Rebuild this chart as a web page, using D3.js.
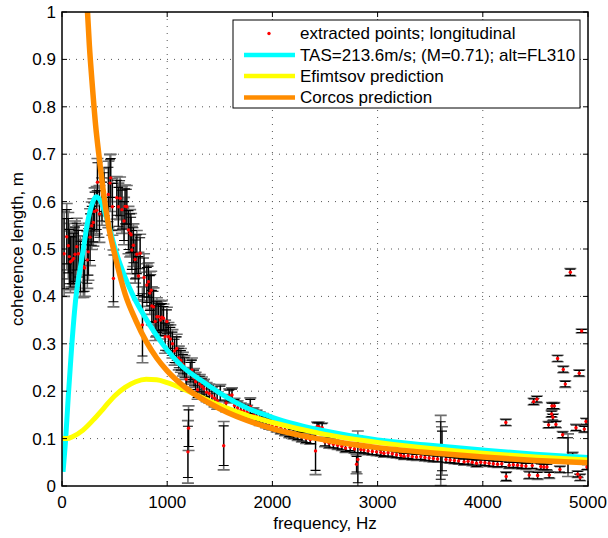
<!DOCTYPE html>
<html>
<head>
<meta charset="utf-8">
<script src="https://cdn.jsdelivr.net/npm/d3@7"></script>
<style>
  body { margin: 0; background: #fff; }
  svg { display: block; font-family: "Liberation Sans", Arial, Helvetica, sans-serif; }
</style>
</head>
<body>
<div id="chart"></div>
<script>
// --- Data ---
// extracted points: [frequency Hz, coherence length m, error half-width]
const points = [
  [20,0.49,0.09],[45,0.526,0.07],[60,0.507,0.07],[70,0.484,0.07],[80,0.473,0.065],[95,0.476,0.06],
  [110,0.48,0.065],[124,0.489,0.07],[140,0.505,0.06],[155,0.49,0.06],[175,0.463,0.065],[203,0.463,0.065],
  [215,0.46,0.06],[241,0.477,0.06],[251,0.494,0.06],[267,0.525,0.06],[283,0.549,0.05],[298,0.556,0.05],
  [310,0.579,0.05],[330,0.582,0.05],[337,0.641,0.05],[356,0.574,0.06],[380,0.6,0.05],[400,0.62,0.05],
  [441,0.615,0.07],[457,0.639,0.06],[463,0.65,0.05],[479,0.589,0.06],[489,0.438,0.06],[521,0.608,0.045],
  [536,0.589,0.05],[552,0.607,0.045],[570,0.583,0.05],[590,0.559,0.05],[600,0.59,0.045],[616,0.589,0.045],
  [632,0.54,0.05],[648,0.533,0.05],[657,0.53,0.045],[664,0.498,0.05],[679,0.508,0.045],[695,0.478,0.05],
  [711,0.489,0.05],[727,0.443,0.05],[743,0.491,0.04],[765,0.34,0.08],[780,0.44,0.05],[806,0.424,0.045],
  [822,0.431,0.04],[835,0.407,0.045],[848,0.413,0.04],[854,0.38,0.04],[870,0.378,0.04],[886,0.347,0.04],
  [902,0.357,0.04],[917,0.357,0.035],[935,0.35,0.04],[949,0.356,0.035],[965,0.354,0.03],[980,0.315,0.035],
  [997,0.347,0.03],[1012,0.315,0.03],[1030,0.31,0.03],[1050,0.3,0.03],[1070,0.285,0.03],[1090,0.29,0.03],
  [1110,0.27,0.025],[1130,0.265,0.025],[1149,0.257,0.025],[1165,0.25,0.025],[1181,0.225,0.025],
  [1197,0.072,0.066],[1203,0.122,0.047],[1220,0.24,0.025],[1235,0.245,0.025],[1255,0.228,0.02],
  [1270,0.22,0.02],[1289,0.203,0.02],[1310,0.215,0.02],[1330,0.21,0.02],[1350,0.205,0.02],[1375,0.198,0.02],
  [1400,0.195,0.02],[1425,0.19,0.018],[1450,0.185,0.018],[1475,0.18,0.018],[1505,0.196,0.018],
  [1537,0.085,0.051],[1560,0.175,0.018],[1590,0.19,0.015],[1616,0.192,0.015],[1640,0.17,0.015],
  [1670,0.165,0.015],[1700,0.16,0.015],[1730,0.158,0.015],[1760,0.155,0.015],[1790,0.168,0.018],
  [1820,0.15,0.015],[1850,0.146,0.014],[1880,0.142,0.014],[1910,0.14,0.013],[1940,0.136,0.013],
  [1970,0.133,0.013],[2000,0.13,0.012],[2040,0.126,0.012],[2080,0.122,0.012],[2120,0.118,0.012],
  [2160,0.114,0.012],[2200,0.11,0.011],[2240,0.107,0.011],[2280,0.104,0.011],[2320,0.1,0.01],
  [2360,0.098,0.01],[2410,0.074,0.05],[2425,0.125,0.01],[2441,0.125,0.01],[2473,0.123,0.01],
  [2500,0.093,0.01],[2540,0.09,0.01],[2580,0.088,0.009],[2620,0.086,0.009],[2660,0.084,0.009],
  [2695,0.08,0.009],[2740,0.082,0.009],[2780,0.078,0.009],[2800,0.046,0.02],[2812,0.056,0.06],
  [2840,0.077,0.008],[2870,0.076,0.008],[2910,0.074,0.008],[2950,0.073,0.008],[2990,0.072,0.008],
  [3030,0.071,0.008],[3060,0.069,0.008],[3100,0.07,0.008],[3140,0.068,0.008],[3180,0.066,0.007],
  [3220,0.065,0.007],[3251,0.063,0.007],[3290,0.064,0.007],[3330,0.062,0.007],[3370,0.061,0.007],
  [3410,0.062,0.007],[3450,0.06,0.007],[3490,0.059,0.007],[3530,0.058,0.007],[3570,0.057,0.007],
  [3600,0.075,0.074],[3612,0.074,0.051],[3650,0.056,0.007],[3690,0.055,0.007],[3730,0.054,0.007],
  [3770,0.053,0.007],[3822,0.051,0.007],[3860,0.052,0.007],[3900,0.05,0.007],[3940,0.048,0.008],
  [3980,0.05,0.007],[4020,0.049,0.007],[4060,0.048,0.007],[4100,0.047,0.007],[4140,0.046,0.007],
  [4180,0.047,0.007],[4219,0.134,0.007],[4222,0.02,0.01],[4251,0.044,0.007],[4290,0.045,0.007],
  [4330,0.044,0.007],[4370,0.043,0.007],[4410,0.042,0.007],[4441,0.023,0.008],[4470,0.043,0.007],
  [4483,0.178,0.007],[4514,0.183,0.007],[4521,0.022,0.008],[4552,0.041,0.007],[4580,0.04,0.007],
  [4610,0.04,0.007],[4625,0.129,0.007],[4632,0.023,0.007],[4654,0.152,0.007],[4657,0.169,0.007],
  [4666,0.145,0.007],[4680,0.169,0.007],[4695,0.13,0.007],[4711,0.269,0.007],[4733,0.035,0.007],
  [4759,0.108,0.007],[4765,0.246,0.007],[4784,0.215,0.007],[4810,0.065,0.045],[4832,0.451,0.008],
  [4854,0.063,0.008],[4886,0.123,0.007],[4902,0.025,0.007],[4917,0.238,0.007],[4925,0.018,0.007],
  [4940,0.327,0.004],[4965,0.12,0.007],[4981,0.136,0.007],[4990,0.04,0.006]
];

// TAS=213.6m/s model curve
const tasFreq = [10,35,60,92,133,170,203,241,283,324,362,410,457,505,584,679,806,965,1149,1314,1500,1774,2000,2171,2500,3000,3500,4000,4500,5000];
const tasVal  = [0.03,0.1,0.19,0.294,0.4,0.455,0.5,0.554,0.593,0.61,0.603,0.575,0.54,0.5,0.449,0.4,0.35,0.297,0.251,0.224,0.196,0.163,0.145,0.133,0.116,0.097,0.086,0.076,0.067,0.06];

// Efimtsov prediction
const efiFreq = [0,50,100,200,300,400,500,600,700,800,900,1000,1200,1500,1774,2000,2500,3000,3500,4000,4500,5000];
const efiVal  = [0.1,0.1,0.104,0.118,0.14,0.165,0.19,0.208,0.22,0.225,0.224,0.218,0.2,0.17,0.148,0.134,0.109,0.092,0.079,0.069,0.061,0.055];

// Corcos prediction
const corFreq = [235,260,290,320,350,400,450,500,600,700,800,900,1000,1200,1500,2000,2500,3000,3500,4000,4500,5000];
const corVal  = [1.03,0.93,0.84,0.76,0.7,0.61,0.54,0.49,0.405,0.35,0.305,0.27,0.243,0.203,0.163,0.121,0.097,0.081,0.07,0.061,0.054,0.049];

const xTicks = [0,1000,2000,3000,4000,5000];
const yTicks = [0,0.1,0.2,0.3,0.4,0.5,0.6,0.7,0.8,0.9,1];

const legendLabels = [
  "extracted points; longitudinal",
  "TAS=213.6m/s; (M=0.71); alt=FL310",
  "Efimtsov prediction",
  "Corcos prediction"
];

// --- Layout ---
const width = 608, height = 538;
const margin = { top: 12, right: 20, bottom: 52, left: 62 };
const iw = width - margin.left - margin.right;   // 526
const ih = height - margin.top - margin.bottom;  // 474
const fs = 17;

const svg = d3.select("#chart").append("svg")
    .attr("width", width)
    .attr("height", height);

svg.append("rect").attr("width", width).attr("height", height).attr("fill", "#fff");

const x = d3.scaleLinear().domain([0, 5000]).range([0, iw]);
const y = d3.scaleLinear().domain([0, 1]).range([ih, 0]);

const g = svg.append("g").attr("transform", `translate(${margin.left},${margin.top})`);

g.append("clipPath").attr("id", "clip")
  .append("rect").attr("width", iw).attr("height", ih);

// grid (dotted, MATLAB style)
g.append("g").selectAll("line")
  .data(xTicks.slice(1, -1))
  .join("line")
    .attr("x1", d => x(d)).attr("x2", d => x(d))
    .attr("y1", 0).attr("y2", ih)
    .attr("stroke", "#555").attr("stroke-width", 1)
    .attr("stroke-dasharray", "1,6");

g.append("g").selectAll("line")
  .data(yTicks.slice(1, -1))
  .join("line")
    .attr("x1", 0).attr("x2", iw)
    .attr("y1", d => y(d)).attr("y2", d => y(d))
    .attr("stroke", "#555").attr("stroke-width", 1)
    .attr("stroke-dasharray", "1,6");

const plot = g.append("g").attr("clip-path", "url(#clip)");

// error bars: grey outer + black inner
function drawBars(cls, color, scaleErr, capHalf, sw) {
  const bars = plot.append("g").attr("class", cls)
      .attr("stroke", color).attr("stroke-width", sw).attr("fill", "none");
  bars.selectAll("path")
    .data(points)
    .join("path")
      .attr("d", d => {
        const cx = x(d[0]);
        const y1 = y(d[1] + d[2] * scaleErr), y2 = y(d[1] - d[2] * scaleErr);
        return `M${cx},${y1}V${y2}M${cx - capHalf},${y1}H${cx + capHalf}M${cx - capHalf},${y2}H${cx + capHalf}`;
      });
}
drawBars("err-grey", "#6e6e6e", 1.0, 6, 1.6);
drawBars("err-black", "#000", 0.82, 5, 1.1);

// red points
plot.append("g").selectAll("circle")
  .data(points)
  .join("circle")
    .attr("cx", d => x(d[0]))
    .attr("cy", d => y(d[1]))
    .attr("r", 1.7)
    .attr("fill", "#f00");

// curves
const line = d3.line()
    .x(d => x(d[0]))
    .y(d => y(d[1]))
    .curve(d3.curveMonotoneX);

const curves = [
  { f: tasFreq, v: tasVal, color: "#00ffff", w: 5 },
  { f: efiFreq, v: efiVal, color: "#ffff00", w: 5 },
  { f: corFreq, v: corVal, color: "#ff8c00", w: 5.5 }
];

curves.forEach(c => {
  plot.append("path")
    .datum(d3.zip(c.f, c.v))
    .attr("fill", "none")
    .attr("stroke", c.color)
    .attr("stroke-width", c.w)
    .attr("stroke-linejoin", "round")
    .attr("d", line);
});

// axes box
g.append("rect")
  .attr("width", iw).attr("height", ih)
  .attr("fill", "none").attr("stroke", "#000").attr("stroke-width", 1.5);

// inward ticks on all four sides
const tk = 5;
const ticks = g.append("g").attr("stroke", "#000").attr("stroke-width", 1);
xTicks.forEach(t => {
  ticks.append("line").attr("x1", x(t)).attr("x2", x(t)).attr("y1", ih).attr("y2", ih - tk);
  ticks.append("line").attr("x1", x(t)).attr("x2", x(t)).attr("y1", 0).attr("y2", tk);
});
yTicks.forEach(t => {
  ticks.append("line").attr("x1", 0).attr("x2", tk).attr("y1", y(t)).attr("y2", y(t));
  ticks.append("line").attr("x1", iw).attr("x2", iw - tk).attr("y1", y(t)).attr("y2", y(t));
});

// tick labels
g.append("g").selectAll("text")
  .data(xTicks)
  .join("text")
    .attr("x", d => x(d))
    .attr("y", ih + 22)
    .attr("text-anchor", "middle")
    .attr("font-size", fs)
    .attr("fill", "#000")
    .text(d => d);

g.append("g").selectAll("text")
  .data(yTicks)
  .join("text")
    .attr("x", -6)
    .attr("y", d => y(d))
    .attr("dy", "0.35em")
    .attr("text-anchor", "end")
    .attr("font-size", fs)
    .attr("fill", "#000")
    .text(d => d);

// axis titles
svg.append("text")
  .attr("x", margin.left + iw / 2)
  .attr("y", 529)
  .attr("text-anchor", "middle")
  .attr("font-size", fs)
  .text("frequency, Hz");

svg.append("text")
  .attr("transform", `translate(23,${margin.top + ih / 2}) rotate(-90)`)
  .attr("text-anchor", "middle")
  .attr("font-size", fs)
  .text("coherence length, m");

// legend
const legend = svg.append("g").attr("transform", "translate(233,20)");
legend.append("rect")
  .attr("width", 347).attr("height", 88)
  .attr("fill", "#fff").attr("stroke", "#000").attr("stroke-width", 1);

const legendRowY = [13.5, 35, 56, 77.5];
const legendColors = [null, "#00ffff", "#ffff00", "#ff8c00"];

legendLabels.forEach((lab, i) => {
  const row = legend.append("g").attr("transform", `translate(0,${legendRowY[i]})`);
  if (i === 0) {
    row.append("circle").attr("cx", 36).attr("cy", 0).attr("r", 1.7).attr("fill", "#f00");
  } else {
    row.append("line").attr("x1", 11).attr("x2", 62).attr("y1", 0).attr("y2", 0)
      .attr("stroke", legendColors[i]).attr("stroke-width", 4.5);
  }
  row.append("text")
    .attr("x", 67).attr("y", 0).attr("dy", "0.35em")
    .attr("font-size", fs)
    .text(lab);
});
</script>
</body>
</html>
